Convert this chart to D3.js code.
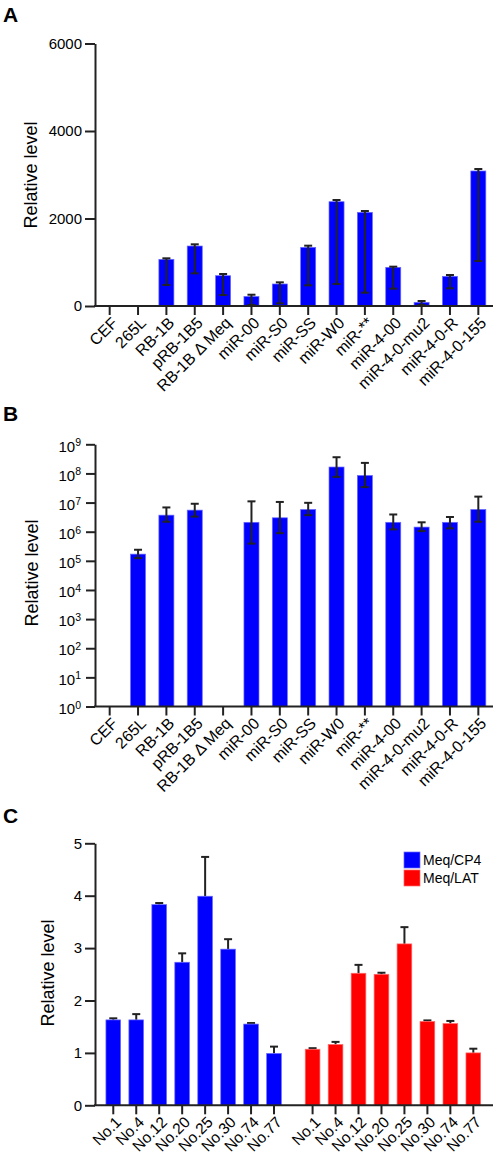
<!DOCTYPE html>
<html>
<head>
<meta charset="utf-8">
<script src="https://cdn.jsdelivr.net/npm/d3@7/dist/d3.min.js"></script>
<style>
  html, body { margin: 0; padding: 0; background: #fff; }
  svg { display: block; font-family: Arial, "Liberation Sans", sans-serif; }
</style>
</head>
<body>
<svg id="chart" width="498" height="1163"></svg>
<script>
// ---------- DATA ----------
const categories = ["CEF","265L","RB-1B","pRB-1B5","RB-1B Δ Meq","miR-00","miR-S0","miR-SS","miR-W0","miR-**","miR-4-00","miR-4-0-mu2","miR-4-0-R","miR-4-0-155"];

// Panel A (linear)
const aValues  = [0, 0, 1067, 1371, 693, 218, 503, 1341, 2384, 2141, 884, 84, 678, 3086];
const aErrLow  = [0, 0, 480, 747, 251, 23, 61, 473, 503, 304, 396, 23, 404, 1029];
const aErrHigh = [0, 0, 1090, 1410, 731, 258, 541, 1379, 2423, 2171, 899, 114, 709, 3131];
const aTicks   = [0, 2000, 4000, 6000];

// Panel B (log)
const bValues  = [null, 1.7e5, 3.7e6, 5.5e6, null, 2.1e6, 3.0e6, 5.8e6, 1.66e8, 8.5e7, 2.1e6, 1.44e6, 2.1e6, 5.8e6];
const bErrLow  = [null, 1.24e5, 2.2e6, 3.3e6, null, 3.9e5, 8.9e5, 3.7e6, 7.6e7, 3.4e7, 1.2e6, 1.05e6, 1.3e6, 2.2e6];
const bErrHigh = [null, 2.4e5, 6.8e6, 9.1e6, null, 1.1e7, 1.05e7, 9.8e6, 3.6e8, 2.3e8, 3.9e6, 2.1e6, 3.2e6, 1.6e7];
const bExponents = [0,1,2,3,4,5,6,7,8,9];

// Panel C (grouped)
const cLabels = ["No.1","No.4","No.12","No.20","No.25","No.30","No.74","No.77"];
const cGroups = ["Meq/CP4","Meq/LAT"];
const cp4Values = [1.63, 1.63, 3.83, 2.73, 3.99, 2.98, 1.55, 0.99];
const cp4Err    = [0.03, 0.11, 0.03, 0.17, 0.75, 0.19, 0.02, 0.13];
const latValues = [1.07, 1.16, 2.52, 2.50, 3.08, 1.60, 1.56, 1.00];
const latErr    = [0.02, 0.05, 0.16, 0.03, 0.32, 0.02, 0.05, 0.08];
const cTicks = [0,1,2,3,4,5];

// ---------- STYLE ----------
const BLUE = "#0000ff", RED = "#ff0000", AXIS = "#222";
const tickFont = "15px", titleFont = "18px", catFont = "16px";

const svg = d3.select("#chart");

function styleAxis(g) {
  g.selectAll(".domain").attr("stroke", AXIS).attr("stroke-width", 2);
  g.selectAll(".tick line").attr("stroke", AXIS).attr("stroke-width", 2);
  g.selectAll(".tick text").attr("fill", "#000").style("font-size", tickFont).style("font-family", "Arial, 'Liberation Sans', sans-serif");
}

function panelLabel(txt, x, y) {
  svg.append("text").attr("x", x).attr("y", y).text(txt)
    .style("font-weight", "bold").style("font-size", "21px").attr("fill", "#000");
}
function yTitle(x, y) {
  svg.append("text").attr("transform", `translate(${x},${y}) rotate(-90)`)
    .attr("text-anchor", "middle").text("Relative level")
    .style("font-size", titleFont).attr("fill", "#000");
}

function rotateLabels(g, dx, dy, size) {
  g.selectAll(".tick text")
    .attr("x", 0).attr("y", 0).attr("dy", "0.35em")
    .attr("text-anchor", "end")
    .attr("transform", `translate(${dx},${dy}) rotate(-45)`)
    .style("font-size", size);
}

function errBar(g, x, y1, y2, cap, top, bottom) {
  g.append("line").attr("x1", x).attr("x2", x).attr("y1", y1).attr("y2", y2)
    .attr("stroke", AXIS).attr("stroke-width", 2);
  if (top) g.append("line").attr("x1", x - cap/2).attr("x2", x + cap/2).attr("y1", y1).attr("y2", y1)
    .attr("stroke", AXIS).attr("stroke-width", 2);
  if (bottom) g.append("line").attr("x1", x - cap/2).attr("x2", x + cap/2).attr("y1", y2).attr("y2", y2)
    .attr("stroke", AXIS).attr("stroke-width", 2);
}

// ---------- PANEL A ----------
const xA = d3.scaleBand().domain(categories).range([95.5, 492.5]).paddingInner(0.47).paddingOuter(0.235);
const yA = d3.scaleLinear().domain([0, 6000]).range([306, 43.5]);

panelLabel("A", 3, 22);
yTitle(37, 175);

const gA = svg.append("g");
const aData = categories.map((c, i) => ({c, v: aValues[i], lo: aErrLow[i], hi: aErrHigh[i]}));
gA.selectAll("rect").data(aData.filter(d => d.v > 0)).join("rect")
  .attr("x", d => xA(d.c)).attr("width", xA.bandwidth())
  .attr("y", d => yA(d.v)).attr("height", d => yA(0) - yA(d.v))
  .attr("fill", BLUE).attr("stroke", "#6a6aff").attr("stroke-width", 0.7);
aData.filter(d => d.v > 0).forEach(d => {
  errBar(gA, xA(d.c) + xA.bandwidth()/2, yA(d.hi), yA(d.lo), 8, true, true);
});

const axAy = svg.append("g").attr("transform", "translate(95,0)")
  .call(d3.axisLeft(yA).tickValues(aTicks).tickFormat(d3.format("d")).tickSize(10).tickSizeOuter(0).tickPadding(3));
styleAxis(axAy);
const axAx = svg.append("g").attr("transform", `translate(0,${yA(0)})`)
  .call(d3.axisBottom(xA).tickSize(9).tickSizeOuter(0));
styleAxis(axAx);
axAx.select(".domain").attr("d", "M94,0H493");
rotateLabels(axAx, 5, 14, catFont);

// ---------- PANEL B ----------
const xB = d3.scaleBand().domain(categories).range([95.5, 492.5]).paddingInner(0.47).paddingOuter(0.235);
const yB = d3.scaleLog().domain([1, 1e9]).range([706.5, 444.3]);

panelLabel("B", 3, 421);
yTitle(38, 573);

const gB = svg.append("g");
const bData = categories.map((c, i) => ({c, v: bValues[i], lo: bErrLow[i], hi: bErrHigh[i]}));
gB.selectAll("rect").data(bData.filter(d => d.v)).join("rect")
  .attr("x", d => xB(d.c)).attr("width", xB.bandwidth())
  .attr("y", d => yB(d.v)).attr("height", d => yB(1) - yB(d.v))
  .attr("fill", BLUE).attr("stroke", "#6a6aff").attr("stroke-width", 0.7);
bData.filter(d => d.v).forEach(d => {
  errBar(gB, xB(d.c) + xB.bandwidth()/2, yB(d.hi), yB(d.lo), 8, true, true);
});

const axBy = svg.append("g").attr("transform", "translate(95,0)")
  .call(d3.axisLeft(yB).tickValues(bExponents.map(e => Math.pow(10, e))).tickFormat("").tickSize(9).tickSizeOuter(0));
styleAxis(axBy);
axBy.selectAll(".tick").each(function(d, i) {
  const t = d3.select(this).select("text")
    .attr("x", -14).attr("dy", "0.45em").attr("text-anchor", "end")
    .style("font-size", "15px");
  t.text(null);
  t.append("tspan").text("10");
  t.append("tspan").attr("dy", "-0.5em").style("font-size", "10.5px").text(bExponents[i]);
});
const axBx = svg.append("g").attr("transform", `translate(0,${yB(1)})`)
  .call(d3.axisBottom(xB).tickSize(9).tickSizeOuter(0));
styleAxis(axBx);
axBx.select(".domain").attr("d", "M94,0H493");
rotateLabels(axBx, 5, 14, catFont);

// ---------- PANEL C ----------
const xGroup = d3.scaleBand().domain(cGroups).range([101.8, 484.8]).paddingInner(0.0783);
const xC = d3.scaleBand().domain(cLabels).range([0, xGroup.bandwidth()]).paddingInner(0.36).paddingOuter(0.18);
const yC = d3.scaleLinear().domain([0, 5]).range([1105.3, 843.3]);

panelLabel("C", 3, 823);
yTitle(54, 973);

const cSeries = [
  {g: cGroups[0], color: BLUE, stroke: "#6a6aff", vals: cp4Values, errs: cp4Err},
  {g: cGroups[1], color: RED, stroke: "#ff6a6a", vals: latValues, errs: latErr}
];
cSeries.forEach(s => {
  const g = svg.append("g").attr("transform", `translate(${xGroup(s.g)},0)`);
  const data = cLabels.map((l, i) => ({l, v: s.vals[i], e: s.errs[i]}));
  data.forEach(d => {
    const cx = xC(d.l) + xC.bandwidth()/2;
    errBar(g, cx, yC(d.v + d.e), yC(d.v), 8, true, false);
  });
  g.selectAll("rect").data(data).join("rect")
    .attr("x", d => xC(d.l)).attr("width", xC.bandwidth())
    .attr("y", d => yC(d.v)).attr("height", d => yC(0) - yC(d.v))
    .attr("fill", s.color).attr("stroke", s.stroke).attr("stroke-width", 0.7);
  const ax = svg.append("g").attr("transform", `translate(${xGroup(s.g)},${yC(0)})`)
    .call(d3.axisBottom(xC).tickSize(9).tickSizeOuter(0));
  styleAxis(ax);
  ax.select(".domain").remove();
  rotateLabels(ax, 5, 14, "15.5px");
});
svg.append("line").attr("x1", 94).attr("x2", 493).attr("y1", yC(0)).attr("y2", yC(0))
  .attr("stroke", AXIS).attr("stroke-width", 2);

const axCy = svg.append("g").attr("transform", "translate(95,0)")
  .call(d3.axisLeft(yC).tickValues(cTicks).tickFormat(d3.format("d")).tickSize(10).tickSizeOuter(0).tickPadding(3));
styleAxis(axCy);

// Legend
const legend = svg.append("g").attr("transform", "translate(404,852)");
cSeries.forEach((s, i) => {
  legend.append("rect").attr("x", 0).attr("y", i * 18).attr("width", 16).attr("height", 16)
    .attr("fill", s.color).attr("stroke", s.stroke).attr("stroke-width", 0.7);
  legend.append("text").attr("x", 19).attr("y", i * 18 + 8).attr("dy", "0.35em")
    .text(s.g).style("font-size", "14px").attr("fill", "#000");
});
</script>
</body>
</html>
